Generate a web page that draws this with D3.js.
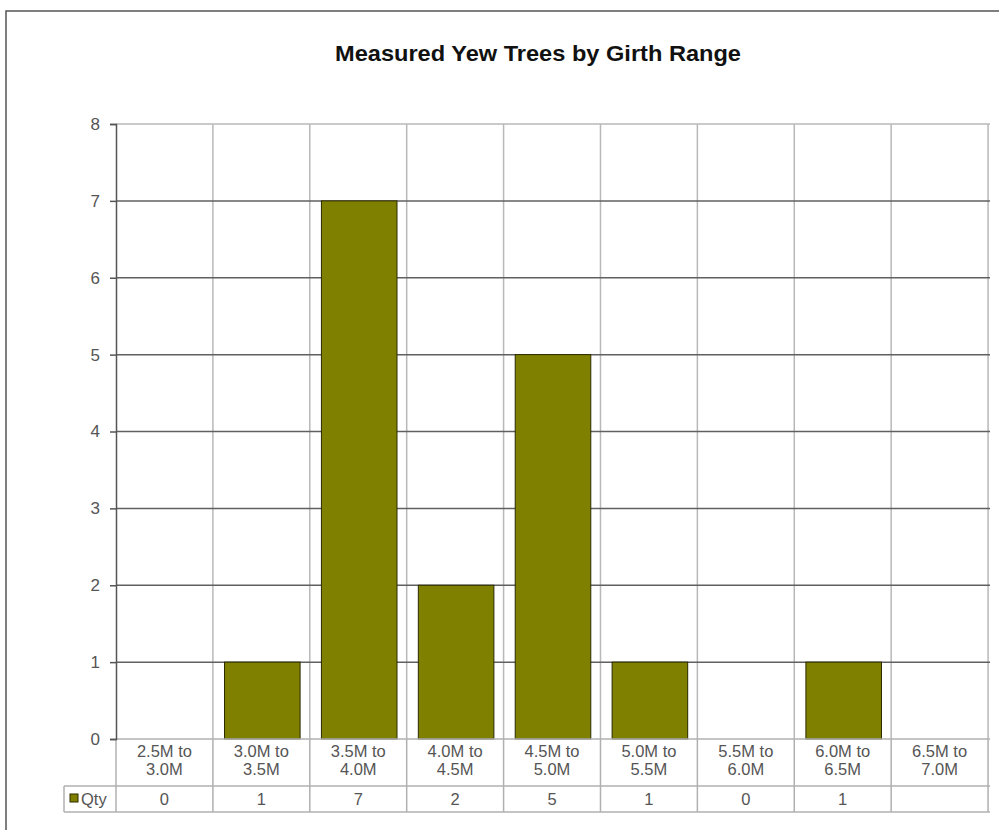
<!DOCTYPE html>
<html>
<head>
<meta charset="utf-8">
<script src="https://cdn.jsdelivr.net/npm/d3@7"></script>
<style>
  body { margin: 0; background: #fff; }
  svg { font-family: "Liberation Sans", Arial, sans-serif; }
</style>
</head>
<body>
<svg width="999" height="830"></svg>
<script>
var categories = ["2.5M to 3.0M", "3.0M to 3.5M", "3.5M to 4.0M", "4.0M to 4.5M", "4.5M to 5.0M",
                  "5.0M to 5.5M", "5.5M to 6.0M", "6.0M to 6.5M", "6.5M to 7.0M"];
var qty = [0, 1, 7, 2, 5, 1, 0, 1, null];
var seriesName = "Qty";
var yTicks = [0, 1, 2, 3, 4, 5, 6, 7, 8];

var svg = d3.select("svg");

// outer chart frame
svg.append("rect")
    .attr("x", 6).attr("y", 11)
    .attr("width", 1010).attr("height", 840)
    .attr("fill", "none")
    .attr("stroke", "#555")
    .attr("stroke-width", 1.5);

svg.append("text")
    .attr("x", 538).attr("y", 61)
    .attr("text-anchor", "middle")
    .attr("font-size", 22)
    .attr("font-weight", "bold")
    .attr("fill", "#111")
    .attr("textLength", 406)
    .attr("lengthAdjust", "spacingAndGlyphs")
    .text("Measured Yew Trees by Girth Range");

var plotLeft = 116, plotRight = 990, plotTop = 124, plotBottom = 739;

var x = d3.scaleBand()
    .domain(categories)
    .range([plotLeft, plotRight])
    .paddingInner(0.22)
    .paddingOuter(0.12);

var y = d3.scaleLinear()
    .domain([0, 8])
    .range([plotBottom, plotTop]);

var bandStep = x.step();
function bandLeft(i) { return plotLeft + i * bandStep; }

var g = svg.append("g");

// vertical gridlines (category separators)
g.selectAll(".vgrid")
    .data(d3.range(1, categories.length + 1))
    .enter().append("line")
    .attr("x1", function (d) { return bandLeft(d); })
    .attr("x2", function (d) { return bandLeft(d); })
    .attr("y1", plotTop).attr("y2", plotBottom)
    .attr("stroke", "#b8b8b8")
    .attr("stroke-width", 1.5);

// horizontal gridlines
g.selectAll(".hgrid")
    .data(yTicks.slice(1))
    .enter().append("line")
    .attr("x1", plotLeft).attr("x2", plotRight)
    .attr("y1", function (d) { return y(d); })
    .attr("y2", function (d) { return y(d); })
    .attr("stroke", function (d) { return d === 8 ? "#b8b8b8" : "#606060"; })
    .attr("stroke-width", 1.5);

// bars
g.selectAll(".bar")
    .data(qty.map(function (v, i) { return { c: categories[i], v: v }; })
              .filter(function (d) { return d.v; }))
    .enter().append("rect")
    .attr("x", function (d) { return x(d.c); })
    .attr("width", x.bandwidth())
    .attr("y", function (d) { return y(d.v); })
    .attr("height", function (d) { return y(0) - y(d.v); })
    .attr("fill", "#808000")
    .attr("stroke", "#2a2a00")
    .attr("stroke-width", 1);

// data table
var rowSplit = 786, tableBottom = 812, legendLeft = 64;
var tbl = svg.append("g").attr("stroke", "#b0b0b0").attr("stroke-width", 1.5);
tbl.append("line").attr("x1", plotLeft).attr("x2", plotRight).attr("y1", plotBottom).attr("y2", plotBottom);
tbl.append("line").attr("x1", legendLeft).attr("x2", plotRight).attr("y1", rowSplit).attr("y2", rowSplit);
tbl.append("line").attr("x1", legendLeft).attr("x2", plotRight).attr("y1", tableBottom).attr("y2", tableBottom);
tbl.append("line").attr("x1", legendLeft).attr("x2", legendLeft).attr("y1", rowSplit).attr("y2", tableBottom);
tbl.append("line").attr("x1", plotLeft).attr("x2", plotLeft).attr("y1", plotBottom).attr("y2", tableBottom);
tbl.selectAll(".tcol")
    .data(d3.range(1, categories.length + 1))
    .enter().append("line")
    .attr("x1", function (d) { return bandLeft(d); })
    .attr("x2", function (d) { return bandLeft(d); })
    .attr("y1", plotBottom).attr("y2", tableBottom);

// y axis
var yAxis = d3.axisLeft(y).tickValues(yTicks).tickSize(6).tickPadding(10);
var ya = svg.append("g")
    .attr("transform", "translate(" + plotLeft + ",0)")
    .call(yAxis);
ya.select(".domain").attr("stroke", "#555").attr("stroke-width", 1.5);
ya.selectAll(".tick line").attr("stroke", "#555").attr("stroke-width", 1.5);
ya.selectAll(".tick text").attr("font-size", 17).attr("fill", "#555")
    .attr("font-family", "'Liberation Sans', Arial, sans-serif");

var labels = svg.selectAll(".catlabel")
    .data(categories)
    .enter().append("text")
    .attr("text-anchor", "middle")
    .attr("font-size", 16.5)
    .attr("fill", "#555");
labels.each(function (d, i) {
    var parts = d.split(" to ");
    var cx = bandLeft(i) + bandStep / 2;
    d3.select(this).append("tspan").attr("x", cx).attr("y", 757).text(parts[0] + " to");
    d3.select(this).append("tspan").attr("x", cx).attr("y", 775).text(parts[1]);
});

svg.selectAll(".qtyval")
    .data(qty)
    .enter().append("text")
    .attr("x", function (d, i) { return bandLeft(i) + bandStep / 2; })
    .attr("y", 805)
    .attr("text-anchor", "middle")
    .attr("font-size", 16.5)
    .attr("fill", "#555")
    .text(function (d) { return d === null ? "" : d; });

svg.append("rect")
    .attr("x", 70).attr("y", 794)
    .attr("width", 8).attr("height", 8)
    .attr("fill", "#808000")
    .attr("stroke", "#2a2a00");
svg.append("text")
    .attr("x", 81).attr("y", 805)
    .attr("font-size", 16.5)
    .attr("fill", "#555")
    .text(seriesName);
</script>
</body>
</html>
